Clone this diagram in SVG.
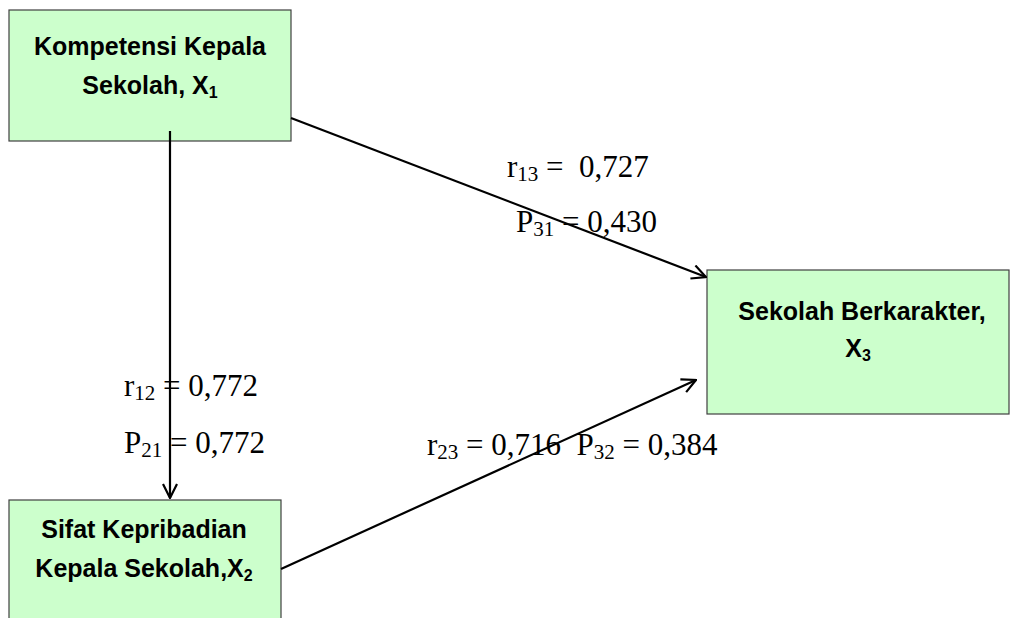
<svg xmlns="http://www.w3.org/2000/svg" width="1011" height="618" viewBox="0 0 1011 618">
<defs>
<style>
.box{fill:#ccffcc;stroke:#404040;stroke-width:1.2}
.bt{font-family:"Liberation Sans",Arial,sans-serif;font-weight:bold;font-size:25px;fill:#000;text-anchor:middle}
.lab{font-family:"Liberation Serif","Times New Roman",serif;font-size:31px;fill:#000;white-space:pre}
.con{stroke:#000;stroke-width:2.2;fill:none}
</style>
<marker id="arr" viewBox="0 0 16 16" refX="15" refY="8" markerWidth="16" markerHeight="16" markerUnits="userSpaceOnUse" orient="auto">
<path d="M1,1 L15,8 L1,15" fill="none" stroke="#000" stroke-width="2.2"/>
</marker>
</defs>
<rect width="1011" height="618" fill="#fff"/>
<g id="node-x1">
<rect class="box" x="9" y="10" width="282" height="131"/>
<text class="bt" x="150" y="55">Kompetensi Kepala</text>
<text class="bt" x="150" y="94">Sekolah, X<tspan font-size="16" dy="4">1</tspan></text>
</g>
<g id="node-x3">
<rect class="box" x="707" y="270" width="302" height="144"/>
<text class="bt" x="862" y="320">Sekolah Berkarakter,</text>
<text class="bt" x="858" y="357">X<tspan font-size="16" dy="4">3</tspan></text>
</g>
<g id="node-x2">
<rect class="box" x="9" y="500" width="272" height="130"/>
<text class="bt" x="144" y="538">Sifat Kepribadian</text>
<text class="bt" x="144" y="577">Kepala Sekolah,X<tspan font-size="16" dy="4">2</tspan></text>
</g>
<g id="connectors">
<line class="con" x1="170" y1="131" x2="170" y2="498" marker-end="url(#arr)"/>
<line class="con" x1="291" y1="118" x2="706" y2="277" marker-end="url(#arr)"/>
<line class="con" x1="281" y1="569" x2="696" y2="380" marker-end="url(#arr)"/>
</g>
<g id="labels">
<text class="lab" x="507" y="177">r<tspan font-size="21" dy="4">13</tspan><tspan dy="-4"> =  0,727</tspan></text>
<text class="lab" x="516" y="232">P<tspan font-size="21" dy="4">31</tspan><tspan dy="-4"> = 0,430</tspan></text>
<text class="lab" x="124" y="396">r<tspan font-size="21" dy="4">12</tspan><tspan dy="-4"> = 0,772</tspan></text>
<text class="lab" x="124" y="453">P<tspan font-size="21" dy="4">21</tspan><tspan dy="-4"> = 0,772</tspan></text>
<text class="lab" x="427" y="455">r<tspan font-size="21" dy="4">23</tspan><tspan dy="-4"> = 0,716  P</tspan><tspan font-size="21" dy="4">32</tspan><tspan dy="-4"> = 0,384</tspan></text>
</g>
</svg>
